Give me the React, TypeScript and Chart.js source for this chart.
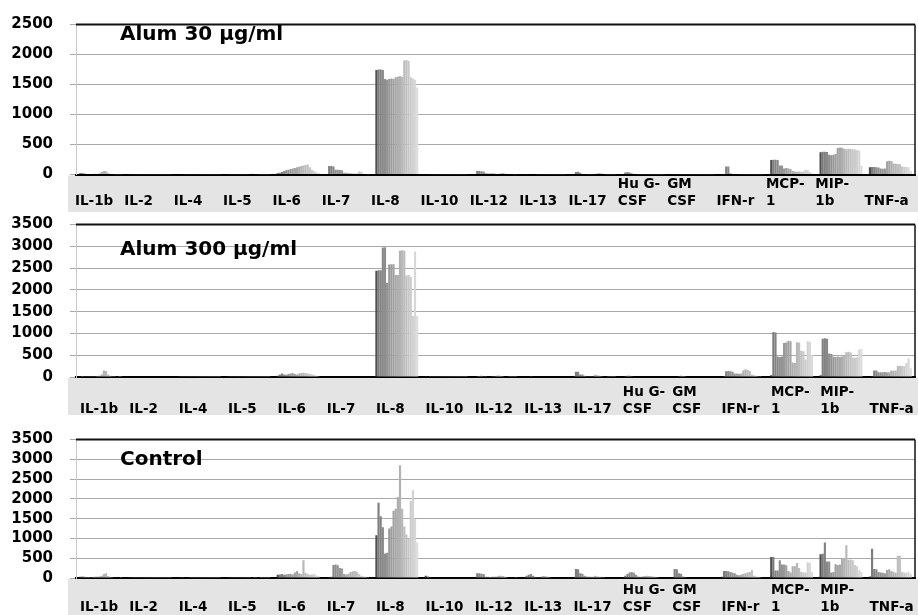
import React, { useEffect, useRef } from "react";
import { Chart, registerables } from "chart.js";

Chart.register(...registerables);

// ---------- categories / tick labels ----------
const CATEGORIES = ["IL-1b", "IL-2", "IL-4", "IL-5", "IL-6", "IL-7", "IL-8", "IL-10", "IL-12", "IL-13", "IL-17", "Hu G-CSF", "GM CSF", "IFN-r", "MCP-1", "MIP-1b", "TNF-a"];
const TICK_LABELS = [
  ["", "IL-1b"], ["", "IL-2"], ["", "IL-4"], ["", "IL-5"], ["", "IL-6"], ["", "IL-7"], ["", "IL-8"], ["", "IL-10"],
  ["", "IL-12"], ["", "IL-13"], ["", "IL-17"], ["Hu G-", "CSF"], ["GM", "CSF"], ["", "IFN-r"], ["MCP-", "1"], ["MIP-", "1b"], ["", "TNF-a"],
];
const SERIES = ["S1", "S2", "S3", "S4", "S5", "S6", "S7", "S8", "S9", "S10", "S11", "S12", "S13", "S14", "S15", "S16", "S17", "S18", "S19", "S20"];

const PANEL_TITLES = ["Alum 30 µg/ml", "Alum 300 µg/ml", "Control"];
const Y_MAX = [2500, 3500, 3500];
const Y_STEP = 500;

// ---------- Alum 30 µg/ml ----------
const A30_IL1b = [20, 25, 15, 10, 8, 8, 10, 12, 10, 15, 40, 60, 55, 30, 10, 8, 6, 5, 5, 5];
const A30_IL2 = [5, 5, 4, 4, 3, 3, 3, 3, 3, 3, 3, 3, 3, 3, 3, 3, 3, 3, 3, 3];
const A30_IL4 = [8, 8, 6, 6, 5, 5, 5, 5, 5, 5, 5, 5, 5, 5, 5, 5, 5, 5, 5, 5];
const A30_IL5 = [6, 6, 5, 5, 5, 5, 5, 5, 5, 5, 10, 12, 10, 8, 6, 5, 5, 5, 5, 5];
const A30_IL6 = [20, 30, 40, 60, 70, 80, 90, 100, 110, 120, 130, 140, 150, 160, 165, 120, 80, 60, 40, 30];
const A30_IL7 = [10, 140, 140, 135, 80, 80, 75, 70, 30, 30, 25, 20, 15, 15, 15, 50, 45, 10, 8, 5];
const A30_IL8 = [1740, 1750, 1750, 1740, 1590, 1580, 1590, 1600, 1590, 1620, 1630, 1640, 1630, 1900, 1910, 1890, 1620, 1600, 1580, 1450];
const A30_IL10 = [10, 8, 5, 5, 5, 5, 5, 5, 5, 5, 5, 5, 5, 5, 5, 5, 5, 5, 5, 5];
const A30_IL12 = [10, 60, 60, 55, 50, 20, 15, 15, 20, 15, 10, 10, 20, 25, 15, 10, 8, 8, 5, 5];
const A30_IL13 = [5, 5, 8, 10, 10, 8, 5, 5, 5, 5, 5, 5, 5, 5, 5, 5, 5, 5, 5, 5];
const A30_IL17 = [10, 40, 45, 30, 10, 8, 5, 5, 5, 5, 10, 20, 25, 15, 10, 5, 5, 5, 5, 5];
const A30_GCSF = [10, 35, 40, 35, 20, 10, 8, 5, 5, 5, 5, 5, 5, 5, 5, 5, 5, 5, 5, 5];
const A30_GMCSF = [5, 5, 5, 5, 5, 5, 5, 5, 5, 5, 5, 5, 5, 5, 5, 5, 5, 5, 5, 5];
const A30_IFNr = [10, 10, 135, 135, 20, 10, 10, 8, 5, 5, 5, 5, 5, 5, 5, 5, 5, 5, 5, 5];
const A30_MCP1 = [240, 245, 245, 240, 150, 150, 100, 110, 100, 90, 60, 50, 45, 50, 45, 50, 80, 70, 40, 20];
const A30_MIP1b = [370, 380, 380, 375, 330, 320, 330, 340, 440, 450, 445, 430, 420, 430, 425, 420, 415, 410, 400, 150];
const A30_TNFa = [120, 125, 125, 120, 115, 100, 95, 100, 220, 230, 225, 185, 180, 175, 170, 135, 130, 125, 120, 60];

// ---------- Alum 300 µg/ml ----------
const A300_IL1b = [20, 25, 20, 15, 15, 15, 20, 20, 25, 30, 60, 150, 140, 60, 30, 20, 15, 10, 8, 5];
const A300_IL2 = [12, 12, 12, 12, 12, 12, 12, 12, 12, 12, 12, 12, 12, 12, 12, 12, 12, 12, 12, 12];
const A300_IL4 = [15, 15, 15, 15, 15, 15, 15, 15, 15, 15, 15, 15, 15, 15, 15, 15, 15, 15, 15, 15];
const A300_IL5 = [15, 15, 15, 15, 15, 15, 15, 15, 15, 15, 15, 15, 15, 15, 15, 20, 20, 15, 15, 15];
const A300_IL6 = [30, 60, 80, 60, 50, 70, 80, 90, 70, 60, 80, 90, 100, 90, 80, 70, 60, 50, 30, 20];
const A300_IL7 = [12, 12, 12, 12, 12, 12, 12, 12, 12, 12, 12, 12, 12, 12, 12, 12, 12, 12, 12, 12];
const A300_IL8 = [2440, 2450, 2450, 2970, 2980, 2160, 2580, 2590, 2590, 2340, 2340, 2900, 2910, 2900, 2330, 2340, 2300, 1400, 2880, 1400];
const A300_IL10 = [15, 10, 8, 8, 8, 8, 8, 8, 8, 8, 8, 8, 8, 8, 8, 8, 8, 8, 8, 8];
const A300_IL12 = [10, 20, 25, 30, 20, 15, 10, 10, 15, 20, 30, 35, 25, 15, 10, 10, 8, 5, 5, 5];
const A300_IL13 = [10, 10, 12, 15, 12, 10, 10, 10, 10, 10, 10, 10, 10, 10, 10, 10, 10, 10, 10, 10];
const A300_IL17 = [20, 120, 120, 60, 60, 30, 20, 20, 20, 20, 50, 40, 30, 20, 10, 10, 8, 5, 5, 5];
const A300_GCSF = [10, 20, 30, 30, 20, 10, 10, 10, 10, 10, 10, 10, 10, 10, 10, 10, 10, 10, 10, 10];
const A300_GMCSF = [10, 10, 10, 20, 30, 25, 15, 10, 10, 10, 10, 10, 10, 10, 10, 10, 10, 10, 10, 10];
const A300_IFNr = [10, 20, 130, 135, 130, 120, 80, 80, 75, 80, 150, 180, 160, 140, 60, 40, 30, 20, 15, 10];
const A300_MCP1 = [40, 1030, 1020, 470, 460, 470, 780, 790, 830, 820, 330, 320, 800, 790, 600, 590, 400, 820, 810, 500];
const A300_MIP1b = [40, 880, 890, 880, 540, 530, 470, 460, 470, 460, 470, 480, 570, 580, 560, 450, 440, 460, 630, 640];
const A300_TNFa = [10, 15, 150, 150, 110, 110, 110, 115, 110, 110, 150, 145, 150, 250, 260, 255, 250, 320, 430, 200];

// ---------- Control ----------
const C_IL1b = [30, 35, 30, 25, 25, 20, 25, 30, 30, 40, 60, 100, 120, 50, 30, 20, 15, 10, 10, 5];
const C_IL2 = [5, 5, 5, 5, 5, 5, 5, 5, 5, 5, 5, 5, 5, 5, 5, 5, 5, 5, 5, 5];
const C_IL4 = [15, 20, 20, 15, 10, 8, 8, 8, 8, 8, 8, 8, 8, 8, 8, 8, 8, 8, 8, 8];
const C_IL5 = [5, 5, 5, 5, 5, 5, 5, 5, 5, 5, 5, 15, 20, 20, 15, 8, 5, 5, 5, 5];
const C_IL6 = [80, 90, 100, 80, 90, 100, 110, 90, 140, 180, 120, 100, 450, 130, 100, 80, 90, 100, 70, 50];
const C_IL7 = [10, 20, 30, 330, 340, 320, 250, 240, 100, 90, 110, 150, 170, 180, 160, 100, 60, 40, 30, 20];
const C_IL8 = [1080, 1900, 1560, 1280, 620, 640, 1250, 1300, 1700, 1750, 2050, 2850, 1750, 1300, 1100, 1000, 1950, 2220, 1500, 900];
const C_IL10 = [60, 40, 20, 15, 10, 10, 10, 10, 10, 10, 10, 10, 10, 10, 10, 10, 10, 10, 10, 10];
const C_IL12 = [10, 120, 120, 110, 100, 30, 30, 25, 30, 30, 40, 60, 60, 50, 30, 20, 15, 10, 10, 5];
const C_IL13 = [20, 60, 80, 100, 60, 30, 20, 20, 40, 50, 40, 30, 20, 15, 10, 10, 10, 10, 10, 10];
const C_IL17 = [20, 230, 220, 120, 110, 60, 40, 30, 30, 30, 60, 40, 30, 20, 20, 15, 10, 10, 10, 10];
const C_GCSF = [20, 60, 100, 140, 150, 130, 80, 40, 30, 40, 50, 60, 50, 45, 40, 30, 20, 15, 10, 10];
const C_GMCSF = [10, 230, 220, 120, 110, 40, 20, 15, 15, 15, 15, 10, 10, 10, 10, 10, 10, 10, 10, 10];
const C_IFNr = [30, 180, 180, 170, 150, 130, 120, 80, 70, 80, 100, 120, 140, 150, 200, 60, 40, 30, 20, 10];
const C_MCP1 = [530, 530, 190, 190, 450, 340, 340, 320, 180, 140, 300, 300, 380, 250, 150, 140, 140, 400, 380, 150];
const C_MIP1b = [600, 610, 900, 420, 420, 140, 150, 350, 330, 340, 480, 500, 830, 460, 470, 450, 330, 300, 200, 150];
const C_TNFa = [40, 740, 230, 220, 150, 140, 130, 120, 200, 220, 180, 150, 130, 560, 560, 150, 140, 130, 160, 100];

const PANEL_ROWS = [
  [A30_IL1b, A30_IL2, A30_IL4, A30_IL5, A30_IL6, A30_IL7, A30_IL8, A30_IL10, A30_IL12, A30_IL13, A30_IL17, A30_GCSF, A30_GMCSF, A30_IFNr, A30_MCP1, A30_MIP1b, A30_TNFa],
  [A300_IL1b, A300_IL2, A300_IL4, A300_IL5, A300_IL6, A300_IL7, A300_IL8, A300_IL10, A300_IL12, A300_IL13, A300_IL17, A300_GCSF, A300_GMCSF, A300_IFNr, A300_MCP1, A300_MIP1b, A300_TNFa],
  [C_IL1b, C_IL2, C_IL4, C_IL5, C_IL6, C_IL7, C_IL8, C_IL10, C_IL12, C_IL13, C_IL17, C_GCSF, C_GMCSF, C_IFNr, C_MCP1, C_MIP1b, C_TNFa],
];

// ---------- layout (styles only) ----------
const FONT = "'DejaVu Sans', 'Liberation Sans', Arial, sans-serif";
const PANEL_LAYOUT = [
  { top: 0, height: 212, padTop: 19.5, axisH: 37.5, labelPad: 2, labelOffset: -25.7, titleTop: 23 },
  { top: 200, height: 215, padTop: 12, axisH: 38, labelPad: 7, labelOffset: -20.7, titleTop: 238 },
  { top: 415, height: 200, padTop: 13, axisH: 37, labelPad: 4, labelOffset: -20.7, titleTop: 448 },
];

function gray(j: number) {
  const v = j === 0 ? 80 : Math.round(125 + (j - 1) * (95 / 18));
  return `rgb(${v},${v},${v})`;
}

const framePlugin = {
  id: "frame",
  beforeDraw(chart: any) {
    const { ctx, chartArea } = chart;
    ctx.save();
    ctx.fillStyle = "#e4e4e4";
    const x0 = chartArea.left - 8;
    ctx.fillRect(x0, chartArea.bottom + 1, chart.width - x0, chart.height - chartArea.bottom - 1);
    ctx.restore();
  },
  afterDraw(chart: any) {
    const { ctx, chartArea } = chart;
    ctx.save();
    ctx.strokeStyle = "#111";
    ctx.lineWidth = 2;
    ctx.beginPath();
    ctx.moveTo(chartArea.left, chartArea.top);
    ctx.lineTo(chartArea.right, chartArea.top);
    ctx.stroke();
    ctx.lineWidth = 1.5;
    ctx.beginPath();
    ctx.moveTo(chartArea.right, chartArea.top);
    ctx.lineTo(chartArea.right, chartArea.bottom);
    ctx.stroke();
    ctx.restore();
  },
};

function Panel({ index }: { index: number }) {
  const ref = useRef<HTMLCanvasElement | null>(null);
  const L = PANEL_LAYOUT[index];
  useEffect(() => {
    if (!ref.current) return;
    const rows = PANEL_ROWS[index];
    const datasets = SERIES.map((name, j) => ({
      label: name,
      data: rows.map((r) => r[j]),
      backgroundColor: gray(j),
      borderWidth: 0,
      categoryPercentage: 0.87,
      barPercentage: 1,
      xAxisID: "x",
      yAxisID: "y",
    }));
    const chart = new Chart(ref.current, {
      type: "bar",
      data: { labels: TICK_LABELS, datasets },
      options: {
        animation: false,
        responsive: false,
        events: [],
        layout: { padding: { top: L.padTop, right: 3, left: 0, bottom: 0 } },
        plugins: { legend: { display: false }, tooltip: { enabled: false }, title: { display: false } },
        scales: {
          x: {
            type: "category",
            position: "bottom",
            offset: true,
            grid: { display: false, drawTicks: false },
            border: { display: true, color: "#000", width: 2 },
            ticks: {
              autoSkip: false,
              maxRotation: 0,
              minRotation: 0,
              align: "start",
              labelOffset: L.labelOffset,
              padding: L.labelPad,
              color: "#000",
              font: { family: FONT, weight: "bold", size: 13.5, lineHeight: 1.25 },
            },
            afterFit: (s: any) => {
              s.height = L.axisH;
              s.paddingLeft = 0;
              s.paddingRight = 0;
            },
          },
          y: {
            min: 0,
            max: Y_MAX[index],
            ticks: {
              stepSize: Y_STEP,
              autoSkip: false,
              padding: 17,
              color: "#000",
              font: { family: FONT, weight: "bold", size: 15, lineHeight: 1 },
              callback: (v: any) => String(v),
            },
            grid: { color: "#a9a9a9", lineWidth: 1, drawTicks: true, tickLength: 6 },
            border: { display: true, color: "#c8c8c8", width: 1 },
            afterFit: (s: any) => {
              s.width = 76;
            },
          },
        },
      } as any,
      plugins: [framePlugin],
    });
    return () => chart.destroy();
  }, [index]);
  return (
    <canvas
      ref={ref}
      width={918}
      height={L.height}
      style={{ position: "absolute", left: 0, top: L.top, width: 918, height: L.height }}
    />
  );
}

export default function App() {
  return (
    <div style={{ position: "absolute", left: 0, top: 0, width: 918, height: 615, background: "#fff", overflow: "hidden" }}>
      {PANEL_LAYOUT.map((_, i) => (
        <Panel key={i} index={i} />
      ))}
      {PANEL_TITLES.map((t, i) => (
        <div
          key={"t" + i}
          style={{
            position: "absolute",
            left: 120,
            top: PANEL_LAYOUT[i].titleTop,
            fontFamily: FONT,
            fontWeight: "bold",
            fontSize: 20,
            lineHeight: "20px",
            color: "#000",
            whiteSpace: "nowrap",
            zIndex: 2,
          }}
        >
          {t}
        </div>
      ))}
    </div>
  );
}
